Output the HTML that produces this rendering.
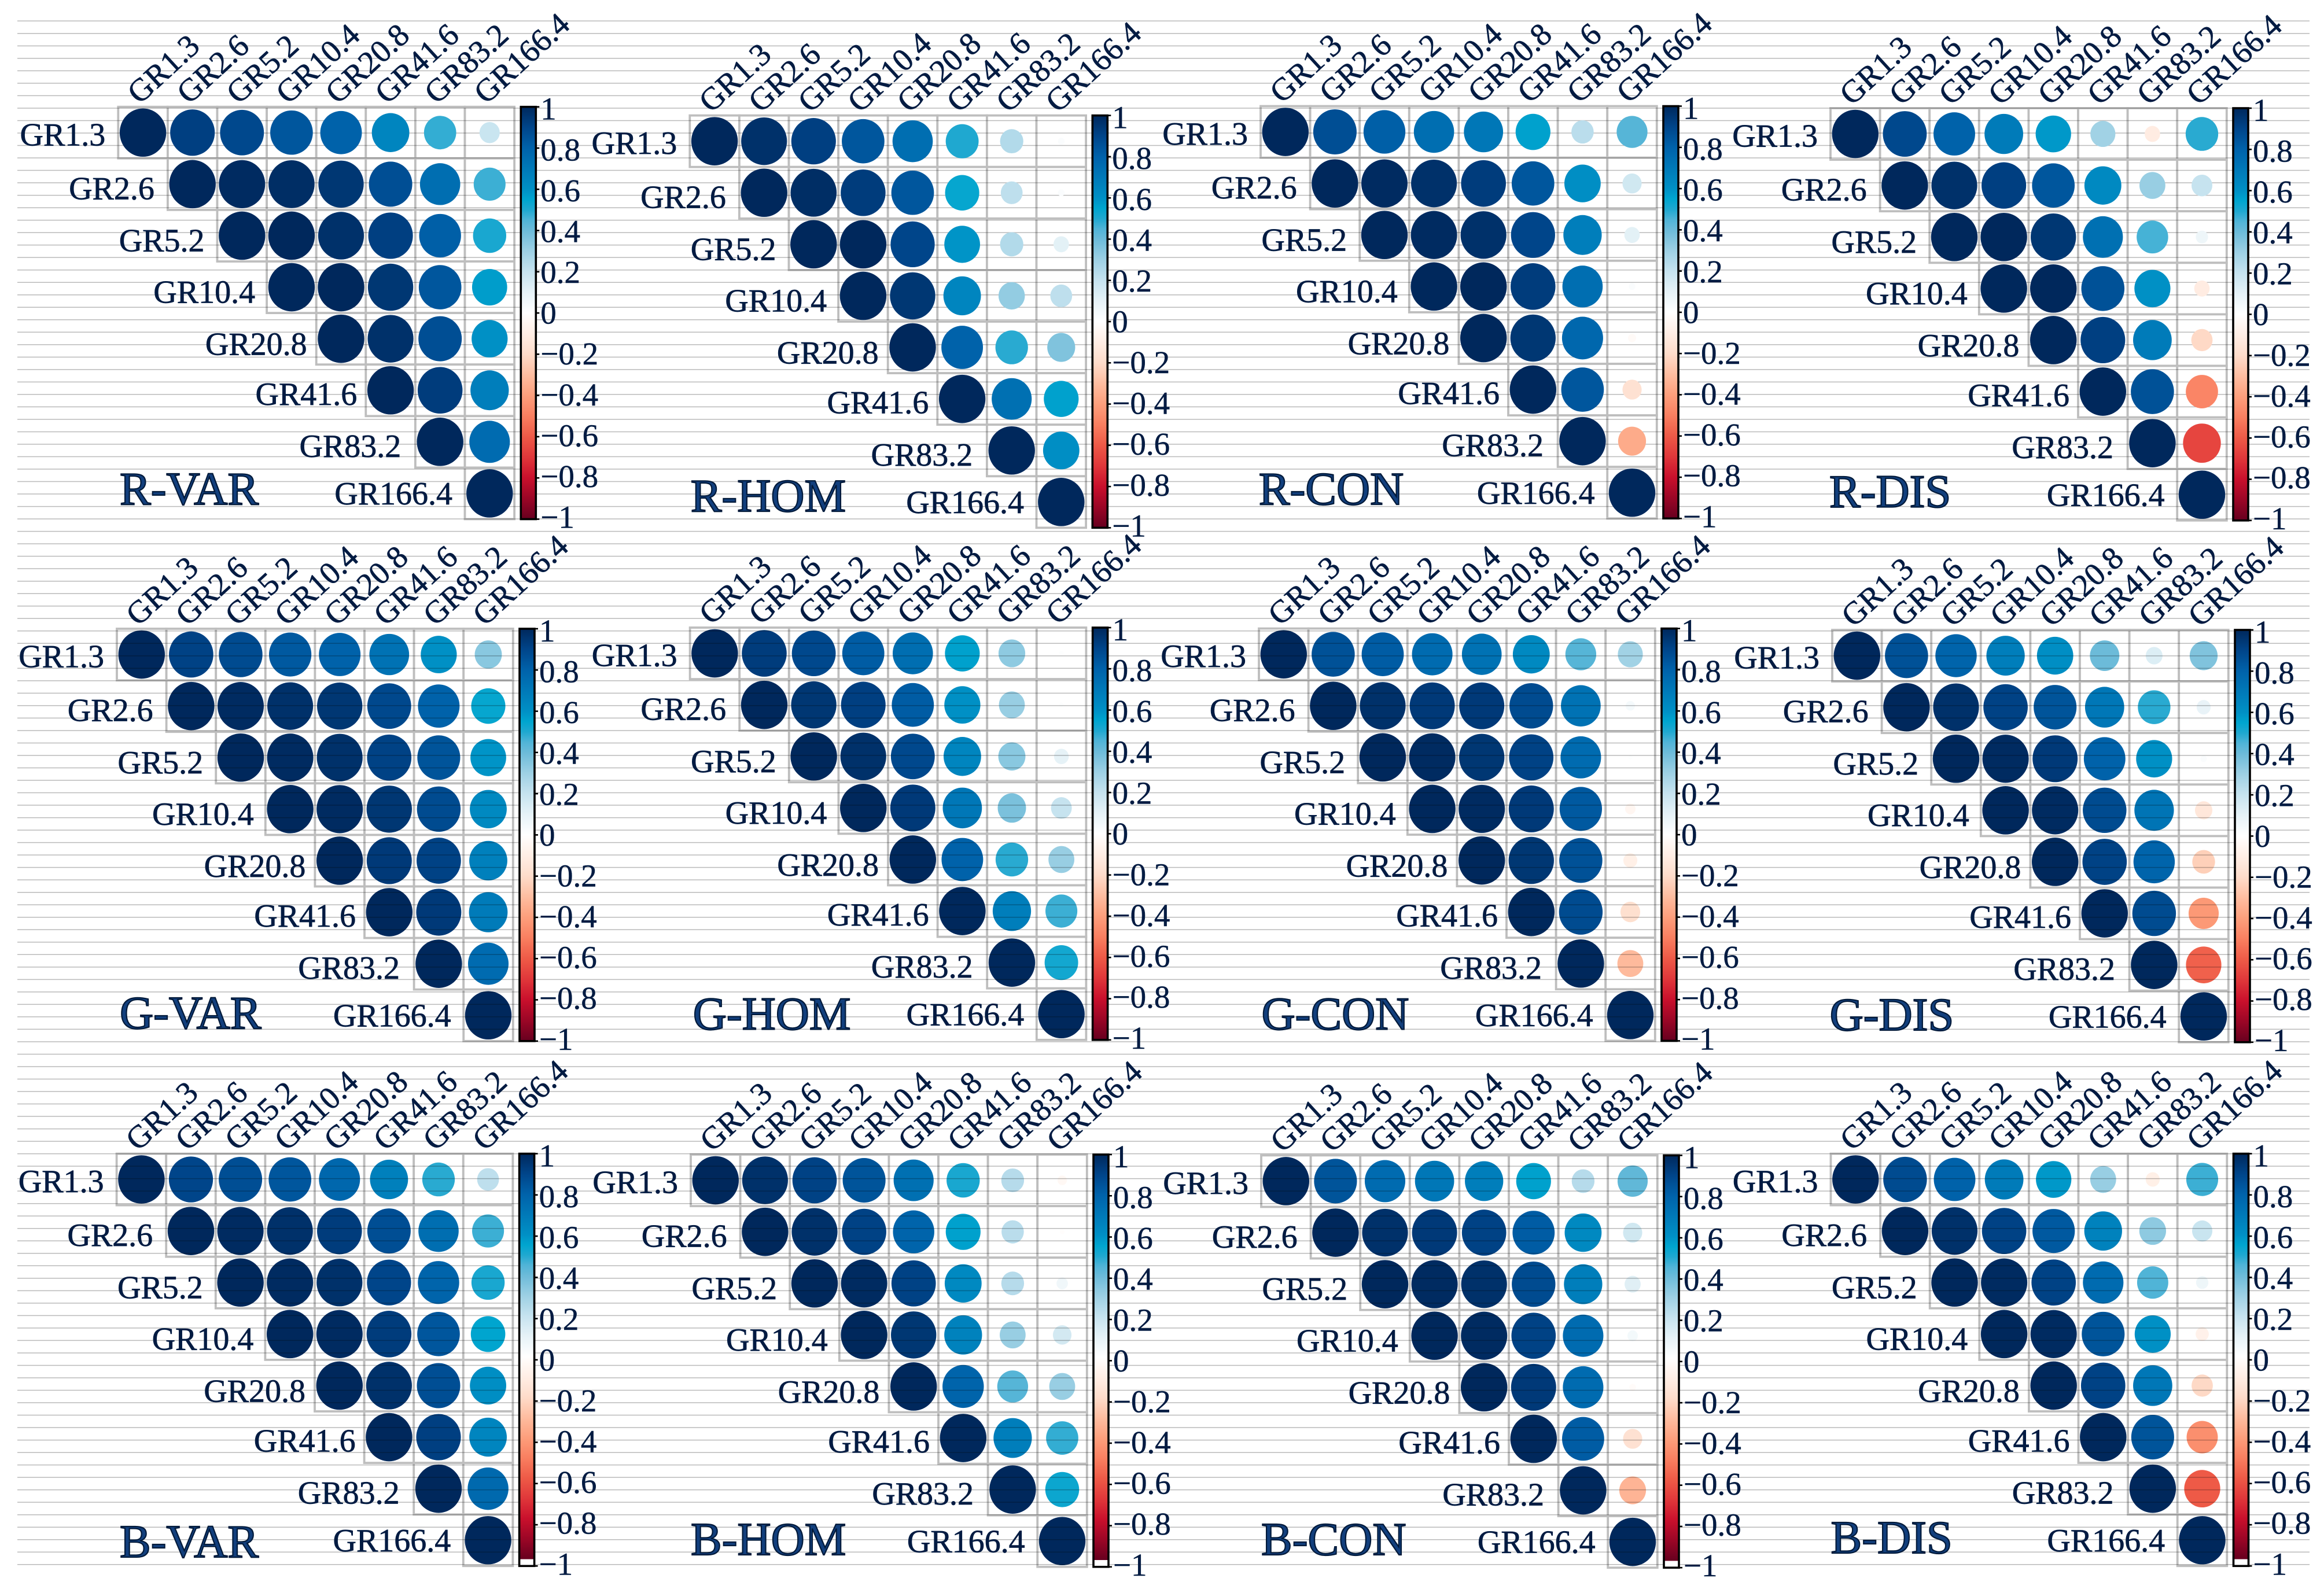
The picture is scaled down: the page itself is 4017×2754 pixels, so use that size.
<!DOCTYPE html>
<html lang="en">
<head>
<meta charset="utf-8">
<title>Correlation matrices of GLCM texture features across resolutions</title>
<style>
html,body{margin:0;padding:0;background:#fff;}
svg{display:block;font-family:"Liberation Serif",serif;}
</style>
</head>
<body>
<svg id="chart" xmlns="http://www.w3.org/2000/svg" width="4017" height="2754" viewBox="0 0 4017 2754">
<defs>
<linearGradient id="ramp" x1="0" y1="0" x2="0" y2="1"></linearGradient>
</defs>
<rect width="4017" height="2754" fill="#fff"></rect>
</svg>
<script>
const categories = ["GR1.3","GR2.6","GR5.2","GR10.4","GR20.8","GR41.6","GR83.2","GR166.4"];
const tickValues = [1,0.8,0.6,0.4,0.2,0,-0.2,-0.4,-0.6,-0.8,-1];
const tickLabels = ["1","0.8","0.6","0.4","0.2","0","\u22120.2","\u22120.4","\u22120.6","\u22120.8","\u22121"];

const rVar = [[1,.92,.89,.84,.80,.65,.48,.19],[1,.99,.98,.95,.87,.75,.47],[1,1,.97,.92,.81,.51],[1,1,.95,.84,.57],[1,.97,.87,.60],[1,.93,.68],[1,.76],[1]];
const rHom = [[1,.97,.92,.84,.75,.50,.25,.02],[1,.98,.93,.84,.54,.22,.02],[1,1,.90,.59,.25,.11],[1,.95,.65,.32,.22],[1,.80,.49,.36],[1,.74,.56],[1,.61],[1]];
const rCon = [[1,.87,.81,.75,.71,.56,.23,.44],[1,.99,.97,.93,.84,.61,.17],[1,.99,.97,.90,.68,.11],[1,1,.93,.75,.02],[1,.95,.78,-.03],[1,.84,-.17],[1,-.36],[1]];
const rDis = [[1,.89,.80,.69,.58,.29,-.11,.49],[1,.97,.92,.84,.63,.31,.20],[1,1,.95,.74,.46,.07],[1,1,.86,.60,-.11],[1,.92,.69,-.21],[1,.86,-.48],[1,-.66],[1]];
const gVar = [[1,.91,.88,.83,.80,.73,.60,.34],[1,.99,.97,.95,.89,.80,.54],[1,.99,.97,.91,.85,.59],[1,.99,.95,.88,.63],[1,.94,.91,.67],[1,.94,.69],[1,.76],[1]];
const gHom = [[1,.93,.89,.82,.75,.56,.33,.01],[1,.95,.92,.82,.60,.31,.01],[1,.97,.89,.65,.34,.10],[1,.94,.71,.37,.20],[1,.80,.49,.31],[1,.68,.47],[1,.52],[1]];
const gCon = [[1,.86,.82,.76,.73,.63,.44,.29],[1,.97,.94,.94,.88,.73,.04],[1,.99,.95,.91,.76,.01],[1,.99,.94,.83,-.05],[1,.95,.86,-.09],[1,.88,-.18],[1,-.31],[1]];
const gDis = [[1,.86,.79,.68,.61,.40,.13,.36],[1,.97,.91,.85,.71,.49,.09],[1,.99,.94,.80,.60,.02],[1,.99,.88,.72,-.14],[1,.91,.79,-.24],[1,.88,-.42],[1,-.58],[1]];
const bVar = [[1,.90,.87,.84,.78,.67,.49,.22],[1,.99,.97,.93,.87,.75,.47],[1,.99,.97,.90,.79,.51],[1,.99,.93,.84,.55],[1,.97,.87,.61],[1,.92,.65],[1,.77],[1]];
const bHom = [[1,.97,.91,.85,.74,.51,.24,-.04],[1,.97,.91,.79,.56,.23,-.01],[1,.99,.91,.63,.24,.06],[1,.95,.66,.31,.16],[1,.79,.44,.31],[1,.68,.48],[1,.53],[1]];
const bCon = [[1,.85,.76,.71,.68,.56,.24,.42],[1,.97,.94,.91,.82,.63,.17],[1,.99,.97,.88,.68,.12],[1,.99,.91,.76,.05],[1,.94,.76,-.02],[1,.82,-.17],[1,-.33],[1]];
const bDis = [[1,.88,.80,.69,.58,.31,-.09,.47],[1,.97,.91,.83,.66,.33,.19],[1,.99,.91,.76,.45,.07],[1,.99,.85,.60,-.08],[1,.91,.71,-.21],[1,.85,-.45],[1,-.60],[1]];

const panelTitles = ["R-VAR","R-HOM","R-CON","R-DIS","G-VAR","G-HOM","G-CON","G-DIS","B-VAR","B-HOM","B-CON","B-DIS"];
const panelValues = [rVar,rHom,rCon,rDis,gVar,gHom,gCon,gDis,bVar,bHom,bCon,bDis];

/* layout only */
const layoutOrigins = [[204.3,184.7],[1192.3,199.6],[2179,183.5],[3164,187],[202,1087],[1192.6,1085],[2176,1086.6],[3167,1089],[201.6,1994.5],[1194,1996],[2180,1997.4],[3164.5,1994.5]];
const layoutTitles = [[207,872],[1193.7,884],[2175.8,872],[3162,876.5],[207,1778],[1197.7,1779.6],[2180.5,1779.6],[3162.6,1781],[207,2692],[1194,2688],[2180,2688],[3164.5,2685]];
const rowGap = [22,23,22,20,16,15,24.6,21.5];
const rowDrop = [22,26,27,27,28,25,26,19];
const CW = 85.6, CH = 89.1, PH = 712.8, BAR_L = 696, BAR_R = 722;
const INK = "#021b42";

const rampV = [1,.9,.8,.7,.6,.55,.5,.45,.4,.3,.2,.1,0,-.05,-.1,-.2,-.3,-.4,-.5,-.6,-.7,-.8,-.9,-1];
const rampC = ["#00285c","#00458a","#0062aa","#0079b8","#0090c5","#00a5cf","#1fa8d0","#50b4d7","#6cbbd9","#9dd0e4","#c6e3ef","#e6f2f7","#ffffff","#fff6f1","#ffeee5","#fedcca","#febda0","#fd9f7c","#f97f60","#ee5a47","#e0373a","#c9102c","#9b0626","#67001f"];

function hexToRgb(h){return [parseInt(h.substr(1,2),16),parseInt(h.substr(3,2),16),parseInt(h.substr(5,2),16)];}
function colorOf(v){
  for(let k=0;k<rampV.length-1;k++){
    if(v<=rampV[k] && v>=rampV[k+1]){
      const t=(rampV[k]-v)/(rampV[k]-rampV[k+1]);
      const a=hexToRgb(rampC[k]),b=hexToRgb(rampC[k+1]);
      return "rgb("+a.map((c,i)=>Math.round(c+(b[i]-c)*t)).join(",")+")";
    }
  }
  return v>0?rampC[0]:rampC[rampC.length-1];
}
function xCell(x0,j){return x0+CW*(j+.5);}
function yCell(y0,i){return y0+CH*(i+.5);}
function yBar(y0,v){return y0+(1-v)/2*PH;}
function rxOf(v){return 40.2*Math.sqrt(Math.abs(v));}
function ryOf(v){return 41.8*Math.sqrt(Math.abs(v));}

const NS="http://www.w3.org/2000/svg";
const svg=document.getElementById("chart");
function make(tag,parent,attrs){
  const el=document.createElementNS(NS,tag);
  for(const k in attrs) el.setAttribute(k,attrs[k]);
  parent.appendChild(el);
  return el;
}

const ramp=document.getElementById("ramp");
rampV.forEach((v,k)=>{
  make("stop",ramp,{offset:((1-v)/2),"stop-color":rampC[k]});
});

function drawRules(parent){
  const g=make("g",parent,{style:"mix-blend-mode:multiply"});
  
  
  return g;
}

/* rules layer for upper row goes under the circles, others above */
const cellLayer=make("g",svg,{});


const rulesUnder=drawRules(svg);
const circleLayer=make("g",svg,{});


const rulesOver=drawRules(svg);
const topLayer=make("g",svg,{});



for(let n=0;n<125;n++){
  const y=36.3+21.52*n;
  const rule=make("line",y<920?rulesUnder:rulesOver,{x1:30,x2:3992,y1:y,y2:y,stroke:"#bababa","stroke-width":1.5});
  
  
}

panelTitles.forEach((title,p)=>{
  const x0=layoutOrigins[p][0], y0=layoutOrigins[p][1];
  const values=panelValues[p];

  values.forEach((row,i)=>{
    row.forEach((v,k)=>{
      const j=i+k;
      const cell=make("rect",cellLayer,{x:x0+CW*j,y:y0+CH*i,width:CW,height:CH,fill:"#fff",stroke:"#bebebe","stroke-width":3.8});
      
      
      const dot=make("ellipse",circleLayer,{cx:xCell(x0,j),cy:yCell(y0,i),rx:rxOf(v),ry:ryOf(v),fill:colorOf(v)});
      
      
    });
  });

  categories.forEach((name,i)=>{
    const rowLabel=make("text",topLayer,{x:x0+CW*i-rowGap[i],y:yCell(y0,i)+rowDrop[i],"text-anchor":"end","font-size":56,fill:INK,stroke:INK,"stroke-width":0.7});
    rowLabel.textContent=name;
    
    
    const tx=xCell(x0,i)-6, ty=y0-3;
    const colLabel=make("text",topLayer,{x:tx,y:ty,"font-size":55,fill:INK,stroke:INK,"stroke-width":0.7,transform:"rotate(-42.5 "+tx+" "+ty+")"});
    colLabel.textContent=name;
    
    
  });

  const t=make("text",topLayer,{x:layoutTitles[p][0],y:layoutTitles[p][1],"font-size":80.5,fill:"#123f7d",stroke:"#021a3a","stroke-width":2.2});
  t.textContent=title;
  
  

  const barX=x0+BAR_L, barW=BAR_R-BAR_L;
  const barEnd=p>=8?yBar(y0,-0.967):yBar(y0,-1);
  const plate=make("rect",topLayer,{x:barX,y:y0,width:barW,height:PH,fill:"#fff"});
  
  
  const fill=make("rect",topLayer,{x:barX,y:y0,width:barW,height:barEnd-y0,fill:"url(#ramp)"});
  
  
  const frame=make("rect",topLayer,{x:barX,y:y0,width:barW,height:PH,fill:"none",stroke:"#000","stroke-width":3.6});
  
  

  tickValues.forEach((v,k)=>{
    const ty=yBar(y0,v);
    const tick=make("line",topLayer,{x1:x0+BAR_R,x2:x0+BAR_R+6,y1:ty,y2:ty,stroke:"#000","stroke-width":2.6});
    
    
    const lab=make("text",topLayer,{x:x0+BAR_R+8,y:ty+22-7*(1-v)/2,"font-size":55,fill:INK,stroke:INK,"stroke-width":0.5});
    lab.textContent=tickLabels[k];
    
    
  });
});
</script>
</body>
</html>
